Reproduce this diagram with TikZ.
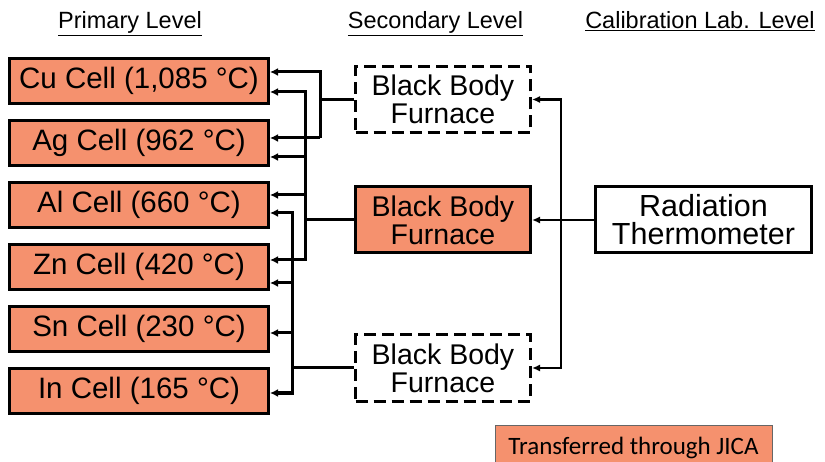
\documentclass[tikz,border=0pt]{standalone}
\usepackage{fontspec}
\setmainfont{Liberation Sans}
\newfontfamily\jicafont{Carlito}
\usetikzlibrary{arrows.meta}
\definecolor{salmon}{RGB}{245,145,110}
\begin{document}
\begin{tikzpicture}[x=1pt,y=-1pt,
  cell/.style={draw=black, line width=3pt, fill=salmon, minimum width=259pt, minimum height=45pt, inner sep=0pt, font=\fontsize{29.5}{29.5}\selectfont},
  furn/.style={draw=black, line width=3pt, minimum width=175pt, minimum height=66pt, inner sep=0pt, align=center, font=\fontsize{28.5}{28}\selectfont},
  dashbox/.style={furn, dash pattern=on 12pt off 6pt},
  title/.style={anchor=base, font=\fontsize{23.5}{28}\selectfont},
  ln/.style={line width=3pt},
  arr/.style={line width=3pt, -{Latex[length=8pt,width=8pt]}},
  rarr/.style={line width=2.5pt, -{Latex[length=8pt,width=7pt]}},
  jica/.style={draw=black!60, line width=1pt, fill=salmon, minimum width=277pt, minimum height=45pt, inner sep=0pt, anchor=north, font=\jicafont\fontsize{25}{28}\selectfont}
]
\useasboundingbox (0,0) rectangle (825,462);

% titles
\node[title] (t1) at (130,29) {\underline{Primary Level}};
\node[title] (t2) at (435.5,29) {\underline{Secondary Level}};
\node[title] (t3) at (700,29) {\underline{Calibration Lab. Level}};

% primary cells
\node[cell] (cu) at (139,81) {Cu Cell (1,085 °C)};
\node[cell] (ag) at (139,143) {Ag Cell (962 °C)};
\node[cell] (al) at (139,205) {Al Cell (660 °C)};
\node[cell] (zn) at (139,267) {Zn Cell (420 °C)};
\node[cell] (sn) at (139,329) {Sn Cell (230 °C)};
\node[cell] (inc) at (139,391) {In Cell (165 °C)};

% secondary furnaces
\node[dashbox] (f1) at (443,99.5) {Black Body\\Furnace};
\node[furn, fill=salmon] (f2) at (443,220) {Black Body\\Furnace};
\node[dashbox] (f3) at (443,368) {Black Body\\Furnace};

% calibration lab
\node[furn, minimum width=216pt, font=\fontsize{30.5}{28}\selectfont] (th) at (703.5,220) {Radiation\\Thermometer};

% JICA legend
\node[jica] (leg) at (633.5,425) {Transferred through JICA};

% arrow end points on the cells
\coordinate (cu1) at ([yshift=9pt]cu.east);
\coordinate (cu2) at ([yshift=-11pt]cu.east);
\coordinate (ag1) at ([yshift=5pt]ag.east);
\coordinate (ag2) at ([yshift=-14pt]ag.east);
\coordinate (al1) at ([yshift=10pt]al.east);
\coordinate (al2) at ([yshift=-8pt]al.east);
\coordinate (zn1) at ([yshift=7pt]zn.east);
\coordinate (zn2) at ([yshift=-16pt]zn.east);
\coordinate (sn1) at ([yshift=-4pt]sn.east);
\coordinate (in1) at ([yshift=-2pt]inc.east);

% bus positions
\coordinate (bA) at (320,0);
\coordinate (bB) at (305,0);
\coordinate (bC) at (292,0);
\coordinate (bR) at (561,0);

% bus A (top furnace)
\draw[ln] (f1.west) -- (f1.west -| bA);
\draw[arr] (ag1 -| bA) -- (cu1 -| bA) -- (cu1);
\draw[arr] (ag1 -| bA) -- (ag1);

% bus B (middle furnace)
\draw[ln] (f2.west) -- (f2.west -| bB);
\draw[arr] (zn1 -| bB) -- (cu2 -| bB) -- (cu2);
\draw[arr] (ag2 -| bB) -- (ag2);
\draw[arr] (al1 -| bB) -- (al1);
\draw[arr] (cu2 -| bB) -- (zn1 -| bB) -- (zn1);

% bus C (bottom furnace)
\draw[ln] (f3.west) -- (f3.west -| bC);
\draw[arr] (in1 -| bC) -- (al2 -| bC) -- (al2);
\draw[arr] (zn2 -| bC) -- (zn2);
\draw[arr] (sn1 -| bC) -- (sn1);
\draw[arr] (al2 -| bC) -- (in1 -| bC) -- (in1);

% right side
\draw[rarr] (th.west) -- (f2.east);
\draw[rarr] (f3.east -| bR) -- (f1.east -| bR) -- (f1.east);
\draw[rarr] (f1.east -| bR) -- (f3.east -| bR) -- (f3.east);
\end{tikzpicture}
\end{document}
